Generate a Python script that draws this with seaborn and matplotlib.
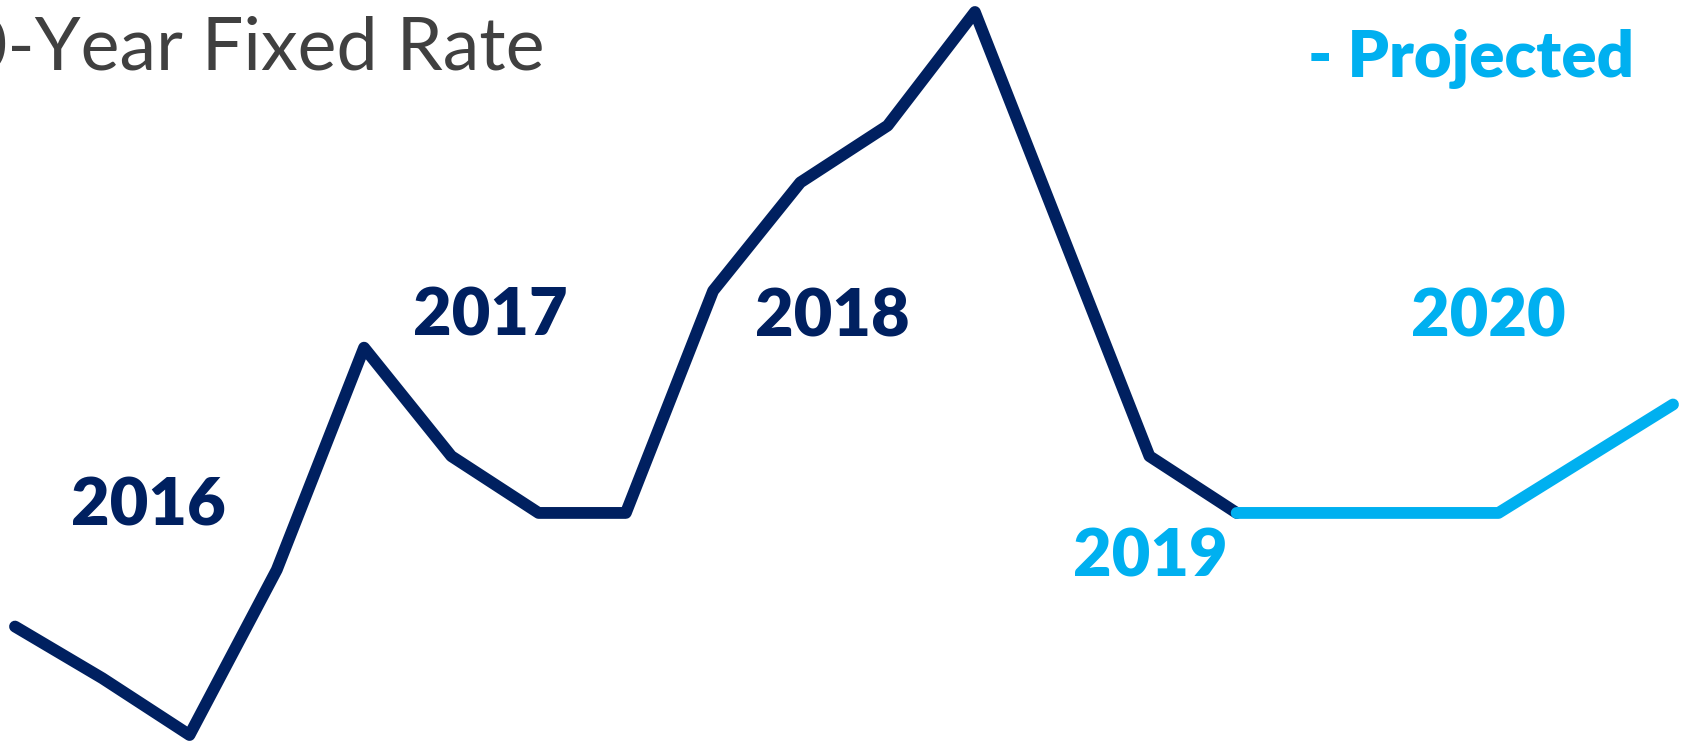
import matplotlib
matplotlib.use("Agg")
import matplotlib.pyplot as plt
import numpy as np
import pandas as pd
import seaborn as sns

# Quarterly 30-year fixed mortgage rate (%), 2016 Q1 .. 2020 Q4
quarters = [f"{y} Q{q}" for y in range(2016, 2021) for q in range(1, 5)]
rates = [3.66, 3.56, 3.45, 3.77,
         4.20, 3.99, 3.88, 3.88,
         4.31, 4.52, 4.63, 4.85,
         4.42, 3.99, 3.88, 3.88,
         3.88, 3.88, 3.985, 4.09]
# last actual quarter; the rest is a projection
last_actual = 14
years = ["2016", "2017", "2018", "2019", "2020"]

NAVY = "#002060"
SKY = "#00B0F0"
GRAY = "#404040"

df = pd.DataFrame({"quarter": quarters, "rate": rates})
df["idx"] = np.arange(len(df))
actual = df.iloc[: last_actual + 1]
projected = df.iloc[last_actual:]

sns.set_theme(style="white")
plt.rcParams["font.family"] = ["Lato", "DejaVu Sans"]

fig = plt.figure(figsize=(16.89, 7.44), dpi=100)
ax = fig.add_axes([0, 0, 1, 1])

line_kw = dict(linewidth=8.5, solid_capstyle="round", solid_joinstyle="round")
sns.lineplot(data=actual, x="idx", y="rate", color=NAVY, ax=ax, **line_kw)
sns.lineplot(data=projected, x="idx", y="rate", color=SKY, ax=ax, **line_kw)

# map the series so that it spans nearly the full canvas
W, H = 1689, 744
n = len(rates)
left_px, right_px = 15, 1673
span = (n - 1) * W / (right_px - left_px)
x0 = -left_px / W * span
ax.set_xlim(x0, x0 + span)
lo, hi = min(rates), max(rates)
top_px, bot_px = 12, 735
per = (bot_px - top_px) / (hi - lo)
ax.set_ylim(lo - (H - bot_px) / per, hi + top_px / per)
ax.set_axis_off()

# year labels
label_pos = [(148, 506), (490, 316), (832, 317), (1150, 557), (1488, 317)]
label_col = [NAVY, NAVY, NAVY, SKY, SKY]
for yr, (px, py), c in zip(years, label_pos, label_col):
    ax.text(px / W, 1 - py / H, yr, transform=ax.transAxes, ha="center",
            va="center", fontsize=48, fontweight="heavy", color=c)

ax.text(545 / W, 1 - 70 / H, "30-Year Fixed Rate", transform=ax.transAxes,
        ha="right", va="baseline", fontsize=53, color=GRAY)
ax.text(1308 / W, 1 - 77 / H, "- Projected", transform=ax.transAxes,
        ha="left", va="baseline", fontsize=47, fontweight="heavy", color=SKY)

fig.savefig("out.png", dpi=100, facecolor="white")
